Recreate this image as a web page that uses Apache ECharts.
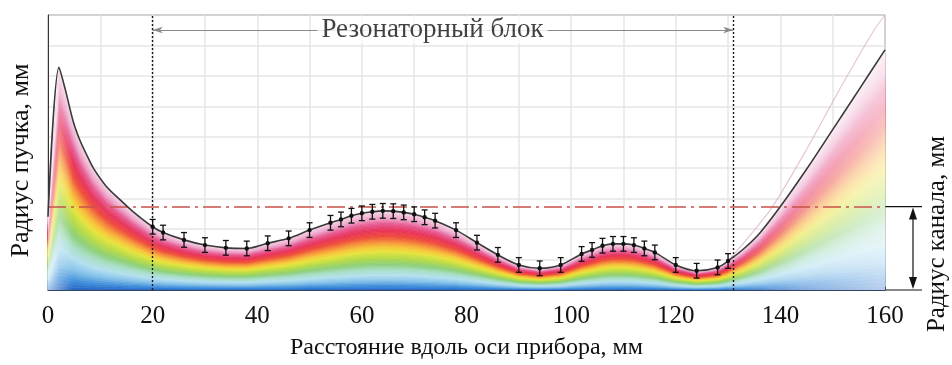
<!DOCTYPE html>
<html><head><meta charset="utf-8">
<script src="https://cdn.jsdelivr.net/npm/echarts@6/dist/echarts.min.js"></script>
<style>html,body{margin:0;padding:0;background:#fff}#c{width:952px;height:365px}</style>
</head><body><div id="c"></div>
<script>
// ---- data ----
const xTickLabels = ['0','20','40','60','80','100','120','140','160'];
const leftX = [0, 2.1, 3.25, 4.85, 6.1, 7.4, 8.7, 11.2, 13.8, 16.3];
const leftR = [2.4, 7.29, 6.6, 5.5, 4.9, 4.42, 3.98, 3.38, 2.95, 2.56];
const measuredX = [20,22,26,30,34,38,42,46,50,54,56,58,60,62,64,66,68,70,72,74,78,82,86,90,94,98,102,104,106,108,110,112,114,116,120,124,128,130];
const measuredR = [2.07,1.88,1.64,1.47,1.38,1.36,1.53,1.69,1.96,2.2,2.31,2.43,2.51,2.56,2.59,2.58,2.54,2.48,2.38,2.27,1.96,1.55,1.15,0.82,0.71,0.82,1.18,1.31,1.45,1.51,1.51,1.47,1.36,1.23,0.82,0.63,0.74,0.95];
const measuredErr = [0.24,0.24,0.24,0.24,0.24,0.24,0.24,0.24,0.24,0.24,0.24,0.24,0.24,0.24,0.24,0.24,0.24,0.24,0.24,0.24,0.24,0.24,0.24,0.24,0.24,0.24,0.24,0.24,0.24,0.24,0.24,0.24,0.24,0.24,0.24,0.24,0.24,0.24];
const rightX = [133,136,140,145,150,155,160];
const rightR = [1.35,1.85,2.73,3.95,5.25,6.55,7.86];
const haloX = [130,134,138.5,145,151.6,157.9,160];
const haloR = [0.95,1.75,2.73,4.6,6.65,8.5,9.0];
const cavityStart = 20, cavityEnd = 131;
const channelR = 2.73;
const cavityLabel = 'Резонаторный блок';
const cavityLabelPos = [73.5, 8.51];
const xName = 'Расстояние вдоль оси прибора, мм';
const yName = 'Радиус пучка, мм';
const channelName = 'Радиус канала, мм';

// ---- styling ----
const FONT = "'Liberation Serif','Times New Roman',serif";
const rainbow = [
  [0.00,[40,100,192]],[0.05,[60,140,218]],[0.12,[134,194,234]],[0.19,[180,224,240]],
  [0.26,[168,222,196]],[0.33,[140,207,120]],[0.41,[180,218,72]],[0.49,[230,228,60]],
  [0.55,[248,196,58]],[0.61,[245,144,58]],[0.68,[239,74,58]],[0.76,[232,51,90]],
  [0.84,[230,90,145]],[0.91,[237,162,200]],[1.00,[245,216,232]]
];
function colorAt(f){
  for(let i=1;i<rainbow.length;i++){
    if(f<=rainbow[i][0]){
      const a=rainbow[i-1], b=rainbow[i], t=(f-a[0])/(b[0]-a[0]);
      const c=a[1].map((v,j)=>Math.round(v+(b[1][j]-v)*t));
      return 'rgb('+c.join(',')+')';
    }
  }
  return 'rgb('+rainbow[rainbow.length-1][1].join(',')+')';
}
const curveX = leftX.concat(measuredX, rightX);
const curveR = leftR.concat(measuredR, rightR);

const chart = echarts.init(document.getElementById('c'), null, {renderer:'canvas'});
const option = {
  animation:false,
  backgroundColor:'#fff',
  textStyle:{fontFamily:FONT},
  grid:{left:48,right:67,top:15,bottom:75,show:true,borderColor:'#333',borderWidth:1,backgroundColor:'transparent'},
  xAxis:{
    type:'value',min:0,max:160,interval:10,
    name:xName,nameLocation:'middle',nameGap:46,
    nameTextStyle:{fontSize:24,color:'#111',fontFamily:FONT},
    axisLine:{lineStyle:{color:'#333',width:1}},
    axisTick:{show:true,inside:true,length:3,lineStyle:{color:'#333'}},
    axisLabel:{fontSize:25,color:'#111',margin:14,fontFamily:FONT,
      formatter:v=>xTickLabels.indexOf(String(v))>=0?String(v):''},
    splitLine:{show:true,lineStyle:{color:'#e6e6e6',width:1.5}}
  },
  yAxis:{
    type:'value',min:0,max:9,interval:1,
    name:yName,nameLocation:'middle',nameGap:14,nameRotate:90,
    nameTextStyle:{fontSize:26,color:'#111',fontFamily:FONT,padding:[0,16,0,0]},
    axisLine:{show:true,lineStyle:{color:'#333'}},
    axisTick:{show:false},axisLabel:{show:false},
    splitLine:{show:true,lineStyle:{color:'#e6e6e6',width:1.5}}
  },
  series:[
    {
      type:'custom',z:1,silent:true,
      data:[[0,0]],encode:{x:0,y:1},
      renderItem:function(params,api){
        const top=curveX.map((x,i)=>api.coord([x,curveR[i]]));
        const base=curveX.map(x=>api.coord([x,0]));
        const N=60, children=[];
        for(let k=0;k<N;k++){
          const f0=k/N,f1=(k+1)/N;
          const up=top.map((t,i)=>[t[0],base[i][1]+(t[1]-base[i][1])*f1]);
          const lo=top.map((t,i)=>[t[0],base[i][1]+(t[1]-base[i][1])*f0]).reverse();
          const c=colorAt((f0+f1)/2);
          children.push({type:'polygon',shape:{points:up.concat(lo)},style:{fill:c,stroke:c,lineWidth:0.7}});
        }
        // fade on right (beam leaving the block) and at the left edge
        const iR=curveX.indexOf(measuredX[measuredX.length-1]);
        const rp=top.slice(iR).concat(base.slice(iR).reverse());
        children.push({type:'polygon',shape:{points:rp},style:{fill:{type:'linear',x:0,y:0,x2:1,y2:0,colorStops:[
          {offset:0,color:'rgba(255,255,255,0.05)'},{offset:0.5,color:'rgba(255,255,255,0.45)'},{offset:1,color:'rgba(255,255,255,0.68)'}]}}});
        const lp=top.slice(0,4).concat(base.slice(0,4).reverse());
        children.push({type:'polygon',shape:{points:lp},style:{fill:{type:'linear',x:0,y:0,x2:1,y2:0,colorStops:[
          {offset:0,color:'rgba(255,255,255,0.6)'},{offset:1,color:'rgba(255,255,255,0)'}]}}});
        return {type:'group',children:children};
      }
    },
    {
      type:'line',z:3,silent:true,showSymbol:false,smooth:0.3,
      data:haloX.map((x,i)=>[x,haloR[i]]),
      lineStyle:{color:'rgba(205,150,185,0.55)',width:1.2},
      markLine:{
        silent:true,symbol:['arrow','arrow'],symbolSize:[5,10],
        lineStyle:{color:'#8a8a8a',width:1,type:'solid'},label:{show:false},
        data:[[{coord:[cavityStart,cavityLabelPos[1]]},{coord:[cavityEnd,cavityLabelPos[1]]}]]
      }
    },
    {
      type:'line',z:5,silent:true,showSymbol:false,smooth:0.3,
      data:curveX.map((x,i)=>[x,curveR[i]]),
      lineStyle:{color:'#3a3a3a',width:1.6},
      markLine:{
        silent:true,symbol:'none',label:{show:false},
        data:[
          {xAxis:cavityStart,lineStyle:{color:'#1a1a1a',width:1.4,type:[2,2]}},
          {xAxis:cavityEnd,lineStyle:{color:'#1a1a1a',width:1.4,type:[2,2]}},
          {yAxis:channelR,lineStyle:{color:'#c9514b',width:1.5,type:[18,5,3,5]}}
        ]
      }
    },
    {
      type:'custom',z:6,silent:true,
      data:measuredX.map((x,i)=>[x,measuredR[i],measuredErr[i]]),encode:{x:0,y:1},
      renderItem:function(params,api){
        const x=api.value(0),y=api.value(1),e=api.value(2);
        const p=api.coord([x,y]),hi=api.coord([x,y+e]),lo=api.coord([x,y-e]);
        const w=3,s={stroke:'#111',lineWidth:1.3};
        return {type:'group',children:[
          {type:'line',shape:{x1:p[0],y1:hi[1],x2:p[0],y2:lo[1]},style:s},
          {type:'line',shape:{x1:p[0]-w,y1:hi[1],x2:p[0]+w,y2:hi[1]},style:s},
          {type:'line',shape:{x1:p[0]-w,y1:lo[1],x2:p[0]+w,y2:lo[1]},style:s},
          {type:'circle',shape:{cx:p[0],cy:p[1],r:2.2},style:{fill:'#111'}}
        ]};
      }
    },
    {
      type:'scatter',z:7,silent:true,symbolSize:1,itemStyle:{color:'rgba(0,0,0,0)'},
      data:[cavityLabelPos],
      label:{show:true,position:'inside',formatter:cavityLabel,fontSize:27,color:'#111',
        fontFamily:FONT,backgroundColor:'#fff',padding:[0,4]}
    }
  ]
};
chart.setOption(option);

// right-hand annotation (channel radius), anchored to data through the axes
const pC=chart.convertToPixel({gridIndex:0},[160,channelR]);
const p0=chart.convertToPixel({gridIndex:0},[160,0]);
const ax=p0[0]+28, ext=p0[0]+37;
const blk={stroke:'#111',lineWidth:1.2};
chart.setOption({graphic:[
  {type:'line',shape:{x1:p0[0],y1:pC[1],x2:ext,y2:pC[1]},style:blk,silent:true},
  {type:'line',shape:{x1:p0[0],y1:p0[1],x2:ext,y2:p0[1]},style:blk,silent:true},
  {type:'line',shape:{x1:ax,y1:pC[1]+10,x2:ax,y2:p0[1]-10},style:blk,silent:true},
  {type:'polygon',shape:{points:[[ax,pC[1]+1],[ax-4,pC[1]+13],[ax+4,pC[1]+13]]},style:{fill:'#111'},silent:true},
  {type:'polygon',shape:{points:[[ax,p0[1]-1],[ax-4,p0[1]-13],[ax+4,p0[1]-13]]},style:{fill:'#111'},silent:true},
  {type:'text',x:937,y:234,rotation:Math.PI/2,silent:true,
    style:{text:channelName,fontSize:25,fontFamily:FONT,fill:'#111',align:'center',verticalAlign:'middle'}}
]});
</script></body></html>
